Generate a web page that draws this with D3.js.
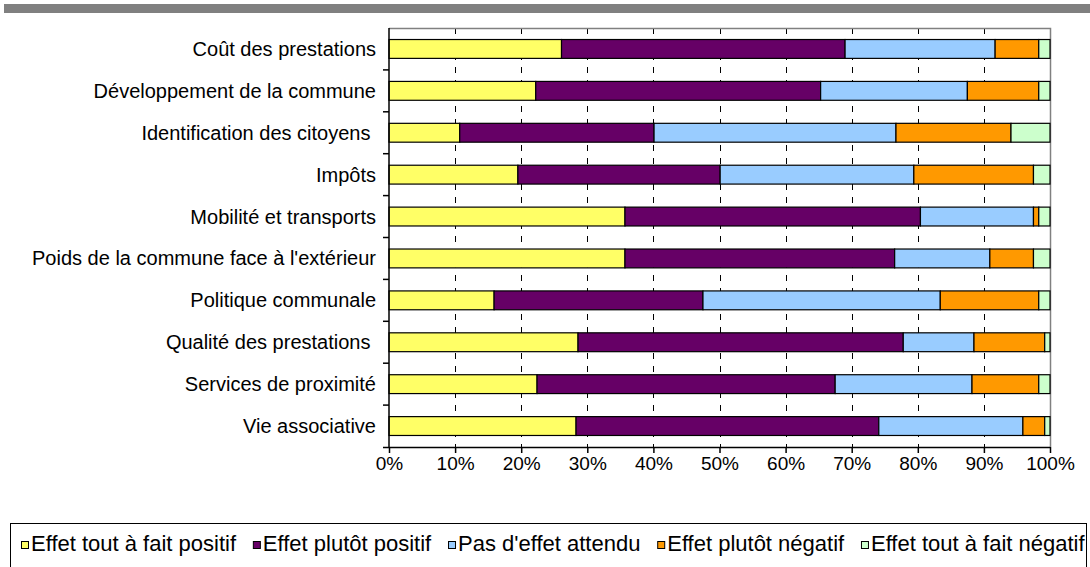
<!DOCTYPE html>
<html><head><meta charset="utf-8">
<script src="https://cdn.jsdelivr.net/npm/d3@7"></script>
<style>
html,body{margin:0;padding:0;background:#fff;}
svg{display:block;}
text{font-family:"Liberation Sans",Arial,sans-serif;fill:#000;white-space:pre;}
</style></head>
<body>
<svg id="chart" width="1090" height="567"></svg>
<script>
const categories = ["Coût des prestations","Développement de la commune","Identification des citoyens ","Impôts","Mobilité et transports","Poids de la commune face à l'extérieur","Politique communale","Qualité des prestations ","Services de proximité","Vie associative"];
const seriesNames = ["Effet tout à fait positif","Effet plutôt positif","Pas d'effet attendu","Effet plutôt négatif","Effet tout à fait négatif"];
const seriesColors = ["#FFFF66","#660066","#99CCFF","#FF9900","#CCFFCC"];
const toutPositif   = [26.1,22.2,10.7,19.5,35.7,35.7,15.9,28.6,22.4,28.3];
const plutotPositif = [42.9,43.1,29.4,30.6,44.7,40.8,31.6,49.2,45.1,45.8];
const pasEffet      = [22.7,22.2,36.6,29.3,17.1,14.4,35.9,10.7,20.7,21.8];
const plutotNegatif = [6.6,10.8,17.4,18.1,0.8,6.6,14.9,10.7,10.1,3.3];
const toutNegatif   = [1.7,1.7,5.9,2.5,1.7,2.5,1.7,0.8,1.7,0.8];
const tickValues = [0,10,20,30,40,50,60,70,80,90,100];

(function(){
const svg = d3.select("#chart");
const pL = 389, pR = 1050, pT = 28, pB = 447;

svg.append("rect").attr("x",4).attr("y",4).attr("width",1086).attr("height",9).attr("fill","#808080");

const rows = categories.map((c,i)=>{
  const vals=[toutPositif[i],plutotPositif[i],pasEffet[i],plutotNegatif[i],toutNegatif[i]];
  const tot=d3.sum(vals);
  return {cat:c, vals: vals.map(v=>v/tot*100)};
});

const x = d3.scaleLinear().domain([0,100]).range([pL,pR]);
const y = d3.scaleBand().domain(categories).range([pT,pB]).paddingInner(0.55).paddingOuter(0.275);

svg.append("g").selectAll("line").data(tickValues.filter(t=>t>0 && t<100)).join("line")
  .attr("x1",d=>Math.round(x(d))+0.5).attr("x2",d=>Math.round(x(d))+0.5)
  .attr("y1",pT).attr("y2",pB)
  .attr("stroke","#000").attr("stroke-width",1).attr("stroke-dasharray","6,7");
svg.append("path").attr("d",`M${pL},${pT+0.5}H${pR+0.5}V${pB}`).attr("fill","none").attr("stroke","#808080").attr("stroke-width",1.5);

const stack = rows.map(r=>{let acc=0; return r.vals.map((v,j)=>{const s=acc; acc+=v; return {cat:r.cat,j,x0:s,x1:acc};});});
svg.append("g").selectAll("g").data(stack).join("g").selectAll("rect").data(d=>d).join("rect")
  .attr("x",d=>x(d.x0)).attr("width",d=>x(d.x1)-x(d.x0))
  .attr("y",d=>y(d.cat)).attr("height",y.bandwidth())
  .attr("fill",d=>seriesColors[d.j]).attr("stroke","#000").attr("stroke-width",1.2);

const xAxis = d3.axisBottom(x).tickValues(tickValues).tickFormat(d=>d+"%").tickSize(6).tickPadding(4);
const gx = svg.append("g").attr("transform",`translate(0,${pB})`).call(xAxis);
gx.select(".domain").attr("d",`M${pL-6},0.5H${pR}`).attr("stroke","#000").attr("stroke-width",1.5);
gx.selectAll(".tick line").attr("stroke","#000").attr("stroke-width",1.5);
gx.selectAll(".tick text").style("font-size","19px").attr("font-family",null);

svg.append("line").attr("x1",pL).attr("x2",pL).attr("y1",pT).attr("y2",pB).attr("stroke","#000").attr("stroke-width",1.5);
const bounds = categories.map(c=>y(c)-y.step()*y.paddingInner()/2).slice(1);
svg.append("g").selectAll("line").data(bounds).join("line")
  .attr("x1",pL-6).attr("x2",pL).attr("y1",d=>d).attr("y2",d=>d).attr("stroke","#000").attr("stroke-width",1.5);
svg.append("g").selectAll("text").data(categories).join("text")
  .attr("x",376).attr("y",d=>y(d)+y.bandwidth()/2).attr("dy","0.35em")
  .attr("text-anchor","end").style("font-size","20px").text(d=>d);

svg.append("clipPath").attr("id","lgclip").append("rect").attr("x",10).attr("y",523).attr("width",1077).attr("height",60);
const lg = svg.append("g");
lg.append("rect").attr("x",10.5).attr("y",523.5).attr("width",1076).attr("height",60).attr("fill","#fff").attr("stroke","#000").attr("stroke-width",1);
const li = lg.append("g").attr("clip-path","url(#lgclip)");
let lx = 21;
seriesNames.forEach((n,i)=>{
  li.append("rect").attr("x",lx+0.5).attr("y",541.5).attr("width",7).attr("height",7).attr("fill",seriesColors[i]).attr("stroke","#000").attr("stroke-width",1);
  const t = li.append("text").attr("x",lx+10).attr("y",551).style("font-size","22px").text(n);
  lx += 10 + t.node().getComputedTextLength() + 16.8;
});
lg.append("line").attr("x1",1086.5).attr("x2",1086.5).attr("y1",523).attr("y2",567).attr("stroke","#000").attr("stroke-width",1);
})();
</script>
</body></html>
